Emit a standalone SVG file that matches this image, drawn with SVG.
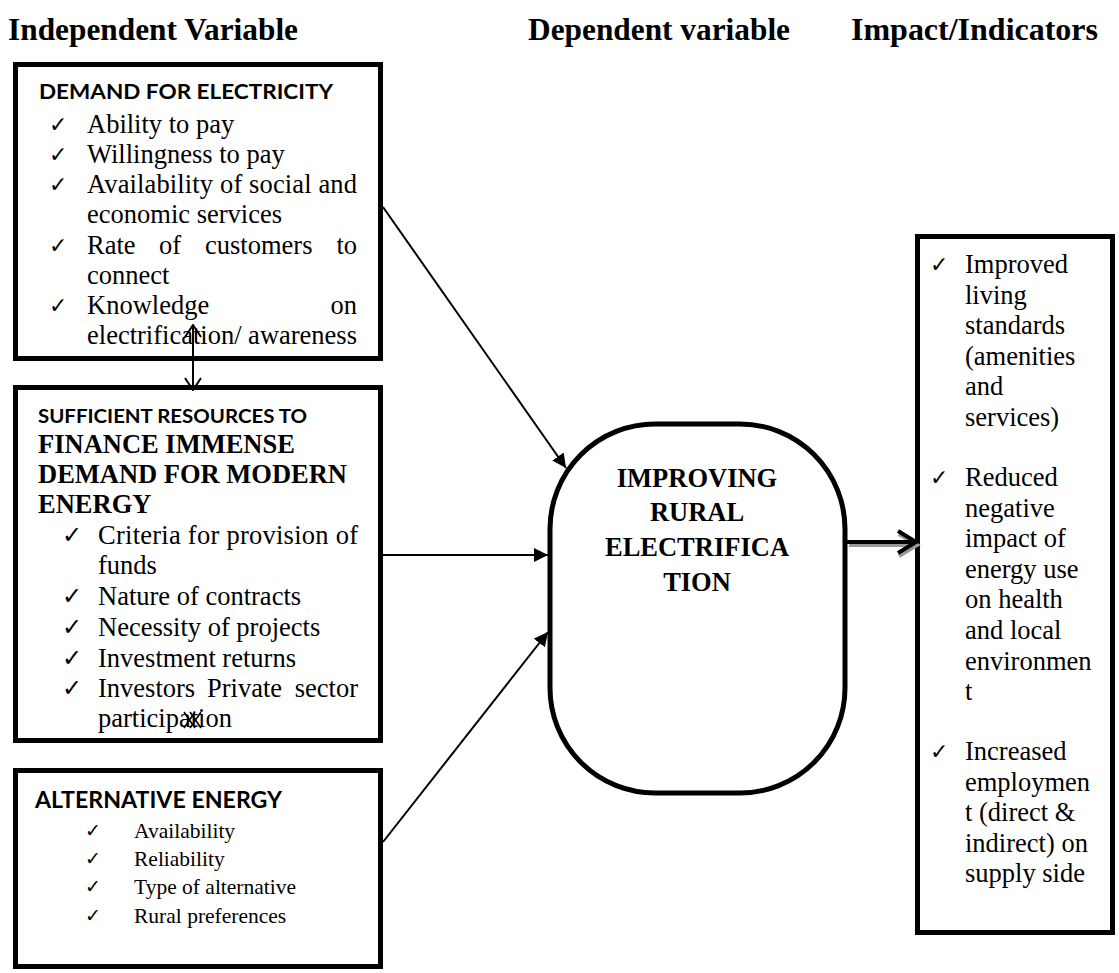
<svg xmlns="http://www.w3.org/2000/svg" width="1119" height="973" viewBox="0 0 1119 973">
<style>
.box{fill:#fff;stroke:#000;stroke-width:5}
.t{font-family:"Liberation Serif","Times New Roman",serif;font-size:26.5px;fill:#000}
.t3{font-family:"Liberation Serif","Times New Roman",serif;font-size:21.5px;fill:#000}
.h{font-family:"Liberation Serif","Times New Roman",serif;font-weight:bold;font-size:31px;fill:#000}
.hb{font-family:"Liberation Serif","Times New Roman",serif;font-weight:bold;font-size:26.5px;fill:#000}
.s{font-family:Lato,"Liberation Sans",Arial,sans-serif;font-weight:bold;fill:#000}
.ck{font-family:"DejaVu Sans",sans-serif;fill:#000}
.conn{stroke:#000;stroke-width:2;fill:none}
</style>
<defs>
<marker id="arr" viewBox="0 0 10 10" refX="10" refY="5" markerWidth="7" markerHeight="7" orient="auto" markerUnits="strokeWidth">
<path d="M0,0 L10,5 L0,10 z" fill="#000"/>
</marker>
<marker id="open" viewBox="0 0 14 18" refX="13" refY="9" markerWidth="14" markerHeight="18" orient="auto-start-reverse" markerUnits="userSpaceOnUse">
<path d="M1,1 L13,9 L1,17" fill="none" stroke="#000" stroke-width="2"/>
</marker>
</defs>

<g id="headers">
<text class="h" x="8" y="40" textLength="290" lengthAdjust="spacingAndGlyphs">Independent Variable</text>
<text class="h" x="528" y="40" textLength="262" lengthAdjust="spacingAndGlyphs">Dependent variable</text>
<text class="h" x="851" y="40" textLength="247" lengthAdjust="spacingAndGlyphs">Impact/Indicators</text>
</g>

<g id="demand">
<rect class="box" x="15.5" y="64.5" width="365" height="294"/>
<text class="s" x="39" y="99" font-size="20" textLength="294" lengthAdjust="spacingAndGlyphs">DEMAND FOR ELECTRICITY</text>
<g class="ck" font-size="22">
<text x="49" y="132">✓</text><text x="49" y="162">✓</text><text x="49" y="192">✓</text><text x="49" y="253">✓</text><text x="49" y="313">✓</text>
</g>
<text class="t" x="87" y="133">Ability to pay</text>
<text class="t" x="87" y="163">Willingness to pay</text>
<text class="t" x="87" y="193" textLength="270" lengthAdjust="spacing">Availability of social and</text>
<text class="t" x="87" y="223">economic services</text>
<text class="t" y="254"><tspan x="87">Rate</tspan><tspan x="159">of</tspan><tspan x="205">customers</tspan><tspan x="357" text-anchor="end">to</tspan></text>
<text class="t" x="87" y="284">connect</text>
<text class="t" y="314"><tspan x="87">Knowledge</tspan><tspan x="357" text-anchor="end">on</tspan></text>
<text class="t" x="87" y="344" textLength="270" lengthAdjust="spacing">electrification/ awareness</text>
</g>

<g id="resources">
<rect class="box" x="15.5" y="387.5" width="365" height="353"/>
<text class="s" x="38" y="423" font-size="19" textLength="269" lengthAdjust="spacingAndGlyphs">SUFFICIENT RESOURCES TO</text>
<text class="hb" x="38" y="453">FINANCE IMMENSE</text>
<text class="hb" x="38" y="483" textLength="309" lengthAdjust="spacing">DEMAND FOR MODERN</text>
<text class="hb" x="38" y="513">ENERGY</text>
<g class="ck" font-size="24">
<text x="62" y="543">✓</text><text x="62" y="604">✓</text><text x="62" y="635">✓</text><text x="62" y="666">✓</text><text x="62" y="696">✓</text>
</g>
<text class="t" x="98" y="544" textLength="260" lengthAdjust="spacing">Criteria for provision of</text>
<text class="t" x="98" y="574">funds</text>
<text class="t" x="98" y="605">Nature of contracts</text>
<text class="t" x="98" y="636">Necessity of projects</text>
<text class="t" x="98" y="667">Investment returns</text>
<text class="t" y="697"><tspan x="98">Investors</tspan><tspan x="207">Private</tspan><tspan x="358" text-anchor="end">sector</tspan></text>
<text class="t" x="98" y="727">participation</text>
<path d="M184,712 L195,728 M195,712 L184,728 M190,712 L201,728 M201,712 L190,728" stroke="#000" stroke-width="1.6" fill="none"/>
</g>

<g id="alternative">
<rect class="box" x="15.5" y="770.5" width="365" height="196"/>
<text class="s" x="35" y="808" font-size="22.5" textLength="247" lengthAdjust="spacingAndGlyphs">ALTERNATIVE ENERGY</text>
<g class="ck" font-size="19">
<text x="85" y="837">✓</text><text x="85" y="865">✓</text><text x="85" y="893">✓</text><text x="85" y="922">✓</text>
</g>
<text class="t3" x="134" y="838">Availability</text>
<text class="t3" x="134" y="866">Reliability</text>
<text class="t3" x="134" y="894">Type of alternative</text>
<text class="t3" x="134" y="923">Rural preferences</text>
</g>

<g id="improving">
<rect class="box" x="550" y="424" width="295" height="369" rx="105" ry="105"/>
<g class="hb" text-anchor="middle">
<text x="697" y="487">IMPROVING</text>
<text x="697" y="521">RURAL</text>
<text x="697" y="556">ELECTRIFICA</text>
<text x="697" y="591">TION</text>
</g>
</g>

<g id="impact">
<rect class="box" x="917.5" y="236.5" width="195" height="696"/>
<g class="ck" font-size="22">
<text x="930" y="272">✓</text><text x="930" y="485">✓</text><text x="930" y="759">✓</text>
</g>
<g class="t">
<text x="965" y="273">Improved</text>
<text x="965" y="304">living</text>
<text x="965" y="334">standards</text>
<text x="965" y="365">(amenities</text>
<text x="965" y="395">and</text>
<text x="965" y="426">services)</text>
<text x="965" y="486">Reduced</text>
<text x="965" y="517">negative</text>
<text x="965" y="547">impact of</text>
<text x="965" y="578">energy use</text>
<text x="965" y="608">on health</text>
<text x="965" y="639">and local</text>
<text x="965" y="670">environmen</text>
<text x="965" y="700">t</text>
<text x="965" y="760">Increased</text>
<text x="965" y="791">employmen</text>
<text x="965" y="821">t (direct &amp;</text>
<text x="965" y="852">indirect) on</text>
<text x="965" y="882">supply side</text>
</g>
</g>

<g id="connectors">
<line class="conn" x1="383" y1="207" x2="566" y2="468" marker-end="url(#arr)"/>
<line class="conn" x1="383" y1="555" x2="548" y2="555" marker-end="url(#arr)"/>
<line class="conn" x1="383" y1="842" x2="548" y2="632" marker-end="url(#arr)"/>
<line class="conn" x1="193" y1="325" x2="193" y2="390" marker-start="url(#open)" marker-end="url(#open)"/>
<g fill="none" stroke="#999" stroke-width="4">
<line x1="849" y1="545" x2="914" y2="545"/>
<polyline points="899,534 917,545 899,556"/>
</g>
<g fill="none" stroke="#000" stroke-width="4">
<line x1="847" y1="542" x2="914" y2="542"/>
<polyline points="898,531 916,542 898,553"/>
</g>
</g>
</svg>
